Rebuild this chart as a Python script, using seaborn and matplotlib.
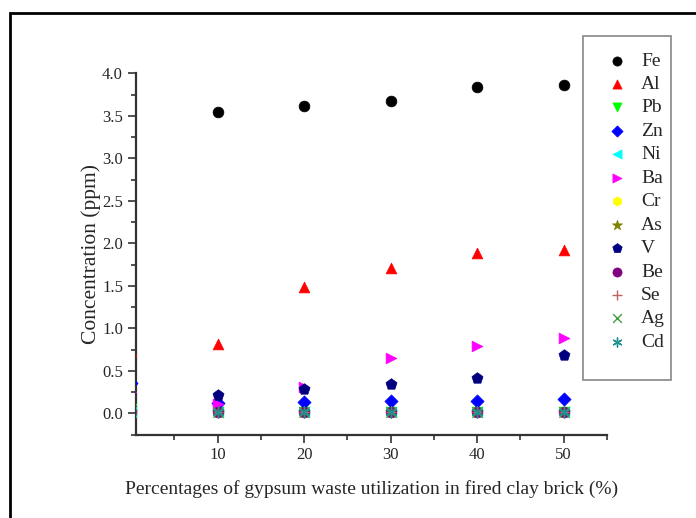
import numpy as np
import pandas as pd
import matplotlib
matplotlib.use("Agg")
import matplotlib.pyplot as plt
import seaborn as sns
from matplotlib.patches import Rectangle
from matplotlib.ticker import MultipleLocator

x_pct = [0, 10, 20, 30, 40, 50]
Fe = [np.nan, 3.54, 3.61, 3.67, 3.84, 3.86]
Al = [0.73, 0.82, 1.48, 1.71, 1.89, 1.92]
Pb = [0.05, 0.01, 0.01, 0.01, 0.01, 0.01]
Zn = [0.36, 0.12, 0.13, 0.14, 0.15, 0.17]
Ni = [0.02, 0.02, 0.02, 0.02, 0.02, 0.02]
Ba = [0.25, 0.11, 0.31, 0.65, 0.79, 0.88]
Cr = [0.01, 0.01, 0.01, 0.01, 0.01, 0.01]
As = [0.01, 0.01, 0.01, 0.01, 0.01, 0.01]
V = [np.nan, 0.22, 0.29, 0.35, 0.42, 0.68]
Be = [0.01, 0.01, 0.01, 0.01, 0.01, 0.01]
Se = [0.01, 0.01, 0.01, 0.01, 0.01, 0.01]
Ag = [0.01, 0.01, 0.01, 0.01, 0.01, 0.01]
Cd = [0.01, 0.01, 0.01, 0.01, 0.01, 0.01]

series = [
    ("Fe", Fe, "o", "#000000", 60),
    ("Al", Al, "^", "#ff0000", 60),
    ("Pb", Pb, "v", "#00ff00", 60),
    ("Zn", Zn, "D", "#0000ff", 45),
    ("Ni", Ni, "<", "#00ffff", 60),
    ("Ba", Ba, ">", "#ff00ff", 60),
    ("Cr", Cr, "h", "#ffff00", 60),
    ("As", As, "*", "#808000", 80),
    ("V", V, "p", "#000080", 70),
    ("Be", Be, "o", "#800080", 60),
    ("Se", Se, "+", "#c06060", 60),
    ("Ag", Ag, "x", "#40a040", 55),
    ("Cd", Cd, (6, 2, 0), "#209090", 60),
]

sns.set_style("ticks")
plt.rcParams["font.family"] = ["Liberation Serif", "DejaVu Serif"]

fig = plt.figure(figsize=(6.96, 5.18), dpi=100)
ax = fig.add_axes([135.5/696, 1-434.5/518, (607-135.5)/696, (434.5-73.3)/518])

for name, vals, mk, col, s in series:
    df = pd.DataFrame({"x": x_pct, "y": vals})
    if mk in ("+", "x") or isinstance(mk, tuple):
        sns.scatterplot(data=df, x="x", y="y", marker=mk, color=col, s=s,
                        linewidth=1.0, ax=ax, label=name, clip_on=True, zorder=3)
    else:
        sns.scatterplot(data=df, x="x", y="y", marker=mk, color=col, s=s,
                        edgecolor=col, linewidth=0.5, ax=ax, label=name,
                        clip_on=True, zorder=3)

ax.set_xlim(0.5, 55)
ax.set_ylim(-0.25, 4.0)
ax.xaxis.set_major_locator(MultipleLocator(10))
ax.xaxis.set_minor_locator(MultipleLocator(5))
ax.yaxis.set_major_locator(MultipleLocator(0.5))
ax.yaxis.set_minor_locator(MultipleLocator(0.25))
ax.set_xticks([10, 20, 30, 40, 50])
yt = [0.0, 0.5, 1.0, 1.5, 2.0, 2.5, 3.0, 3.5, 4.0]
ax.set_yticks(yt)
ax.set_yticklabels([f"{v:.1f}" for v in yt])
sns.despine(ax=ax)
for sp in ("left", "bottom"):
    ax.spines[sp].set_linewidth(1.6)
    ax.spines[sp].set_color("#333333")
ax.tick_params(which="major", direction="out", length=6, width=1.2, color="#333333",
               labelsize=12, pad=3)
ax.tick_params(which="minor", direction="out", length=3.5, width=1.2, color="#333333")
ax.tick_params(axis="x", pad=3)

ax.set_xlabel("Percentages of gypsum waste utilization in fired clay brick (%)",
              fontsize=14, labelpad=12)
ax.set_ylabel("Concentration (ppm)", fontsize=15.5, labelpad=1)

handles, labels = ax.get_legend_handles_labels()
ax.get_legend().remove()
leg = fig.legend(handles, labels, loc="upper left",
                 bbox_to_anchor=(607/696, 1-52/518), frameon=False,
                 fontsize=14, handlelength=1.0, handletextpad=0.75, markerscale=0.85,
                 labelspacing=0.3, borderpad=0.0, borderaxespad=0.0)

fig.patches.append(Rectangle((583/696, 1-380/518), (671-583)/696, (380-36)/518,
                             transform=fig.transFigure, fill=False,
                             edgecolor="#888888", linewidth=1.2))
fig.patches.append(Rectangle((9.5/696, -0.1), 1.2, 1-13.5/518+0.1,
                             transform=fig.transFigure, fill=False,
                             edgecolor="#000000", linewidth=2.0))

fig.savefig("out.png", dpi=100)
